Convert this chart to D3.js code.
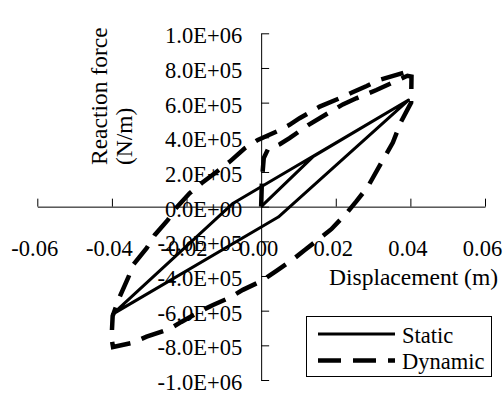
<!DOCTYPE html>
<html>
<head>
<meta charset="utf-8">
<script src="https://cdn.jsdelivr.net/npm/d3@7"></script>
<style>
  body { margin: 0; background: #fff; }
  svg { display: block; }
</style>
</head>
<body>
<div id="chart"></div>
<script>
// tick values
var xTicks = [-0.06, -0.04, -0.02, 0.00, 0.02, 0.04, 0.06];
var yTicks = [-1.0e6, -8.0e5, -6.0e5, -4.0e5, -2.0e5, 0, 2.0e5, 4.0e5, 6.0e5, 8.0e5, 1.0e6];

// static loop: virgin loading, unloading, reloading
var staticDisp  = [0, 0.0140, 0.0395, 0.0046, -0.0398, -0.0075, 0.0395];
var staticForce = [0, 290000, 615000, -60000, -620000, 20000, 615000];

// dynamic loop
var dynDisp = [0, 0.0002, 0.0007, 0.0018, 0.0050, 0.0076, 0.0126, 0.0184, 0.0219, 0.0255, 0.0309, 0.0362, 0.0392,
  0.0403, 0.0402, 0.0375, 0.0353, 0.0320, 0.0286, 0.0255, 0.0228, 0.0188, 0.0150, 0.0117, 0.0085, 0.0041, 0,
  -0.0049, -0.0084, -0.0129, -0.0160, -0.0214, -0.0245, -0.0307, -0.0344, -0.0397,
  -0.0401, -0.0398, -0.0379, -0.0357, -0.0343, -0.0307, -0.0285, -0.0250, -0.0229, -0.0192, -0.0160, -0.0120,
  -0.0084, -0.0044, -0.0009, 0.0045, 0.0076, 0.0103, 0.0157, 0.0210, 0.0245, 0.0283, 0.0317, 0.0392];
var dynForce = [0, 150000, 280000, 330000, 360000, 395000, 470000, 545000, 590000, 625000, 673000, 725000, 755000,
  750000, 600000, 490000, 370000, 245000, 115000, 30000, -40000, -130000, -195000, -250000, -305000, -370000, -430000,
  -480000, -525000, -567000, -600000, -665000, -705000, -750000, -785000, -810000,
  -760000, -630000, -519000, -413000, -336000, -240000, -163000, -77000, -10000, 77000, 135000, 200000,
  260000, 337000, 385000, 437000, 472000, 510000, 577000, 625000, 660000, 696000, 731000, 779000];

var width = 503, height = 398;
var serif = "'Liberation Serif', 'Times New Roman', Times, serif";

var svg = d3.select("#chart").append("svg")
    .attr("width", width)
    .attr("height", height)
    .style("background", "#fff");

var x = d3.scaleLinear().domain([-0.06, 0.06]).range([37.3, 485]);
var y = d3.scaleLinear().domain([-1e6, 1e6]).range([380, 33.3]);

// 1.0E+06 style labels
var sci = function(v) {
  if (v === 0) return "0.0E+00";
  var s = d3.format(".1e")(Math.abs(v)).split("e");
  var exp = +s[1];
  return (v < 0 ? "-" : "") + s[0] + "E" + (exp < 0 ? "-" : "+") + d3.format("02d")(Math.abs(exp));
};
var fix = function(v) {
  return (v < 0 ? "-" : "") + Math.abs(v).toFixed(2);
};

// x axis, ticks pointing up
var xAxis = svg.append("g")
    .attr("transform", "translate(0," + y(0) + ")")
    .call(d3.axisBottom(x)
      .tickValues(xTicks)
      .tickFormat(fix)
      .tickSizeInner(-8)
      .tickSizeOuter(0)
      .tickPadding(33));

// y axis, ticks pointing right, labels on the left
var yAxis = svg.append("g")
    .attr("transform", "translate(" + x(0) + ",0)")
    .call(d3.axisLeft(y)
      .tickValues(yTicks)
      .tickFormat(sci)
      .tickSizeInner(-8)
      .tickSizeOuter(0)
      .tickPadding(19));

svg.selectAll(".tick text")
    .attr("font-family", serif)
    .attr("font-size", 22.5)
    .attr("fill", "#000");
xAxis.selectAll(".tick text").attr("dx", -3);
yAxis.selectAll(".tick text").attr("dy", "0.42em");
svg.selectAll(".domain, .tick line").attr("stroke", "#000").attr("stroke-width", 1);

// axis titles
svg.append("text")
    .attr("x", 498)
    .attr("y", 285)
    .attr("text-anchor", "end")
    .attr("font-family", serif)
    .attr("font-size", 23.5)
    .text("Displacement (m)");

svg.append("text")
    .attr("transform", "translate(107,165) rotate(-90)")
    .attr("font-family", serif)
    .attr("font-size", 23.5)
    .text("Reaction force");
svg.append("text")
    .attr("transform", "translate(132,165) rotate(-90)")
    .attr("font-family", serif)
    .attr("font-size", 23.5)
    .text("(N/m)");

var line = d3.line()
    .x(function(d) { return x(d[0]); })
    .y(function(d) { return y(d[1]); });

var staticPts = d3.zip(staticDisp, staticForce);
var dynPts = d3.zip(dynDisp, dynForce);

svg.append("path")
    .datum(staticPts)
    .attr("d", line)
    .attr("fill", "none")
    .attr("stroke", "#000")
    .attr("stroke-width", 3)
    .attr("stroke-linejoin", "round");

svg.append("path")
    .datum(dynPts)
    .attr("d", line)
    .attr("fill", "none")
    .attr("stroke", "#000")
    .attr("stroke-width", 4.5)
    .attr("stroke-dasharray", "23,12");

// legend
var legend = svg.append("g");
legend.append("rect")
    .attr("x", 306.5)
    .attr("y", 316.5)
    .attr("width", 185)
    .attr("height", 60)
    .attr("fill", "#fff")
    .attr("stroke", "#000")
    .attr("stroke-width", 1);

var items = [
  {name: "Static", w: 3, dash: null, y: 334},
  {name: "Dynamic", w: 4.5, dash: "23,12", y: 360.5}
];
items.forEach(function(it) {
  legend.append("line")
      .attr("x1", 318).attr("x2", 395)
      .attr("y1", it.y).attr("y2", it.y)
      .attr("stroke", "#000")
      .attr("stroke-width", it.w)
      .attr("stroke-dasharray", it.dash);
  legend.append("text")
      .attr("x", 402)
      .attr("y", it.y + 8.5)
      .attr("font-family", serif)
      .attr("font-size", 22.5)
      .text(it.name);
});
</script>
</body>
</html>
